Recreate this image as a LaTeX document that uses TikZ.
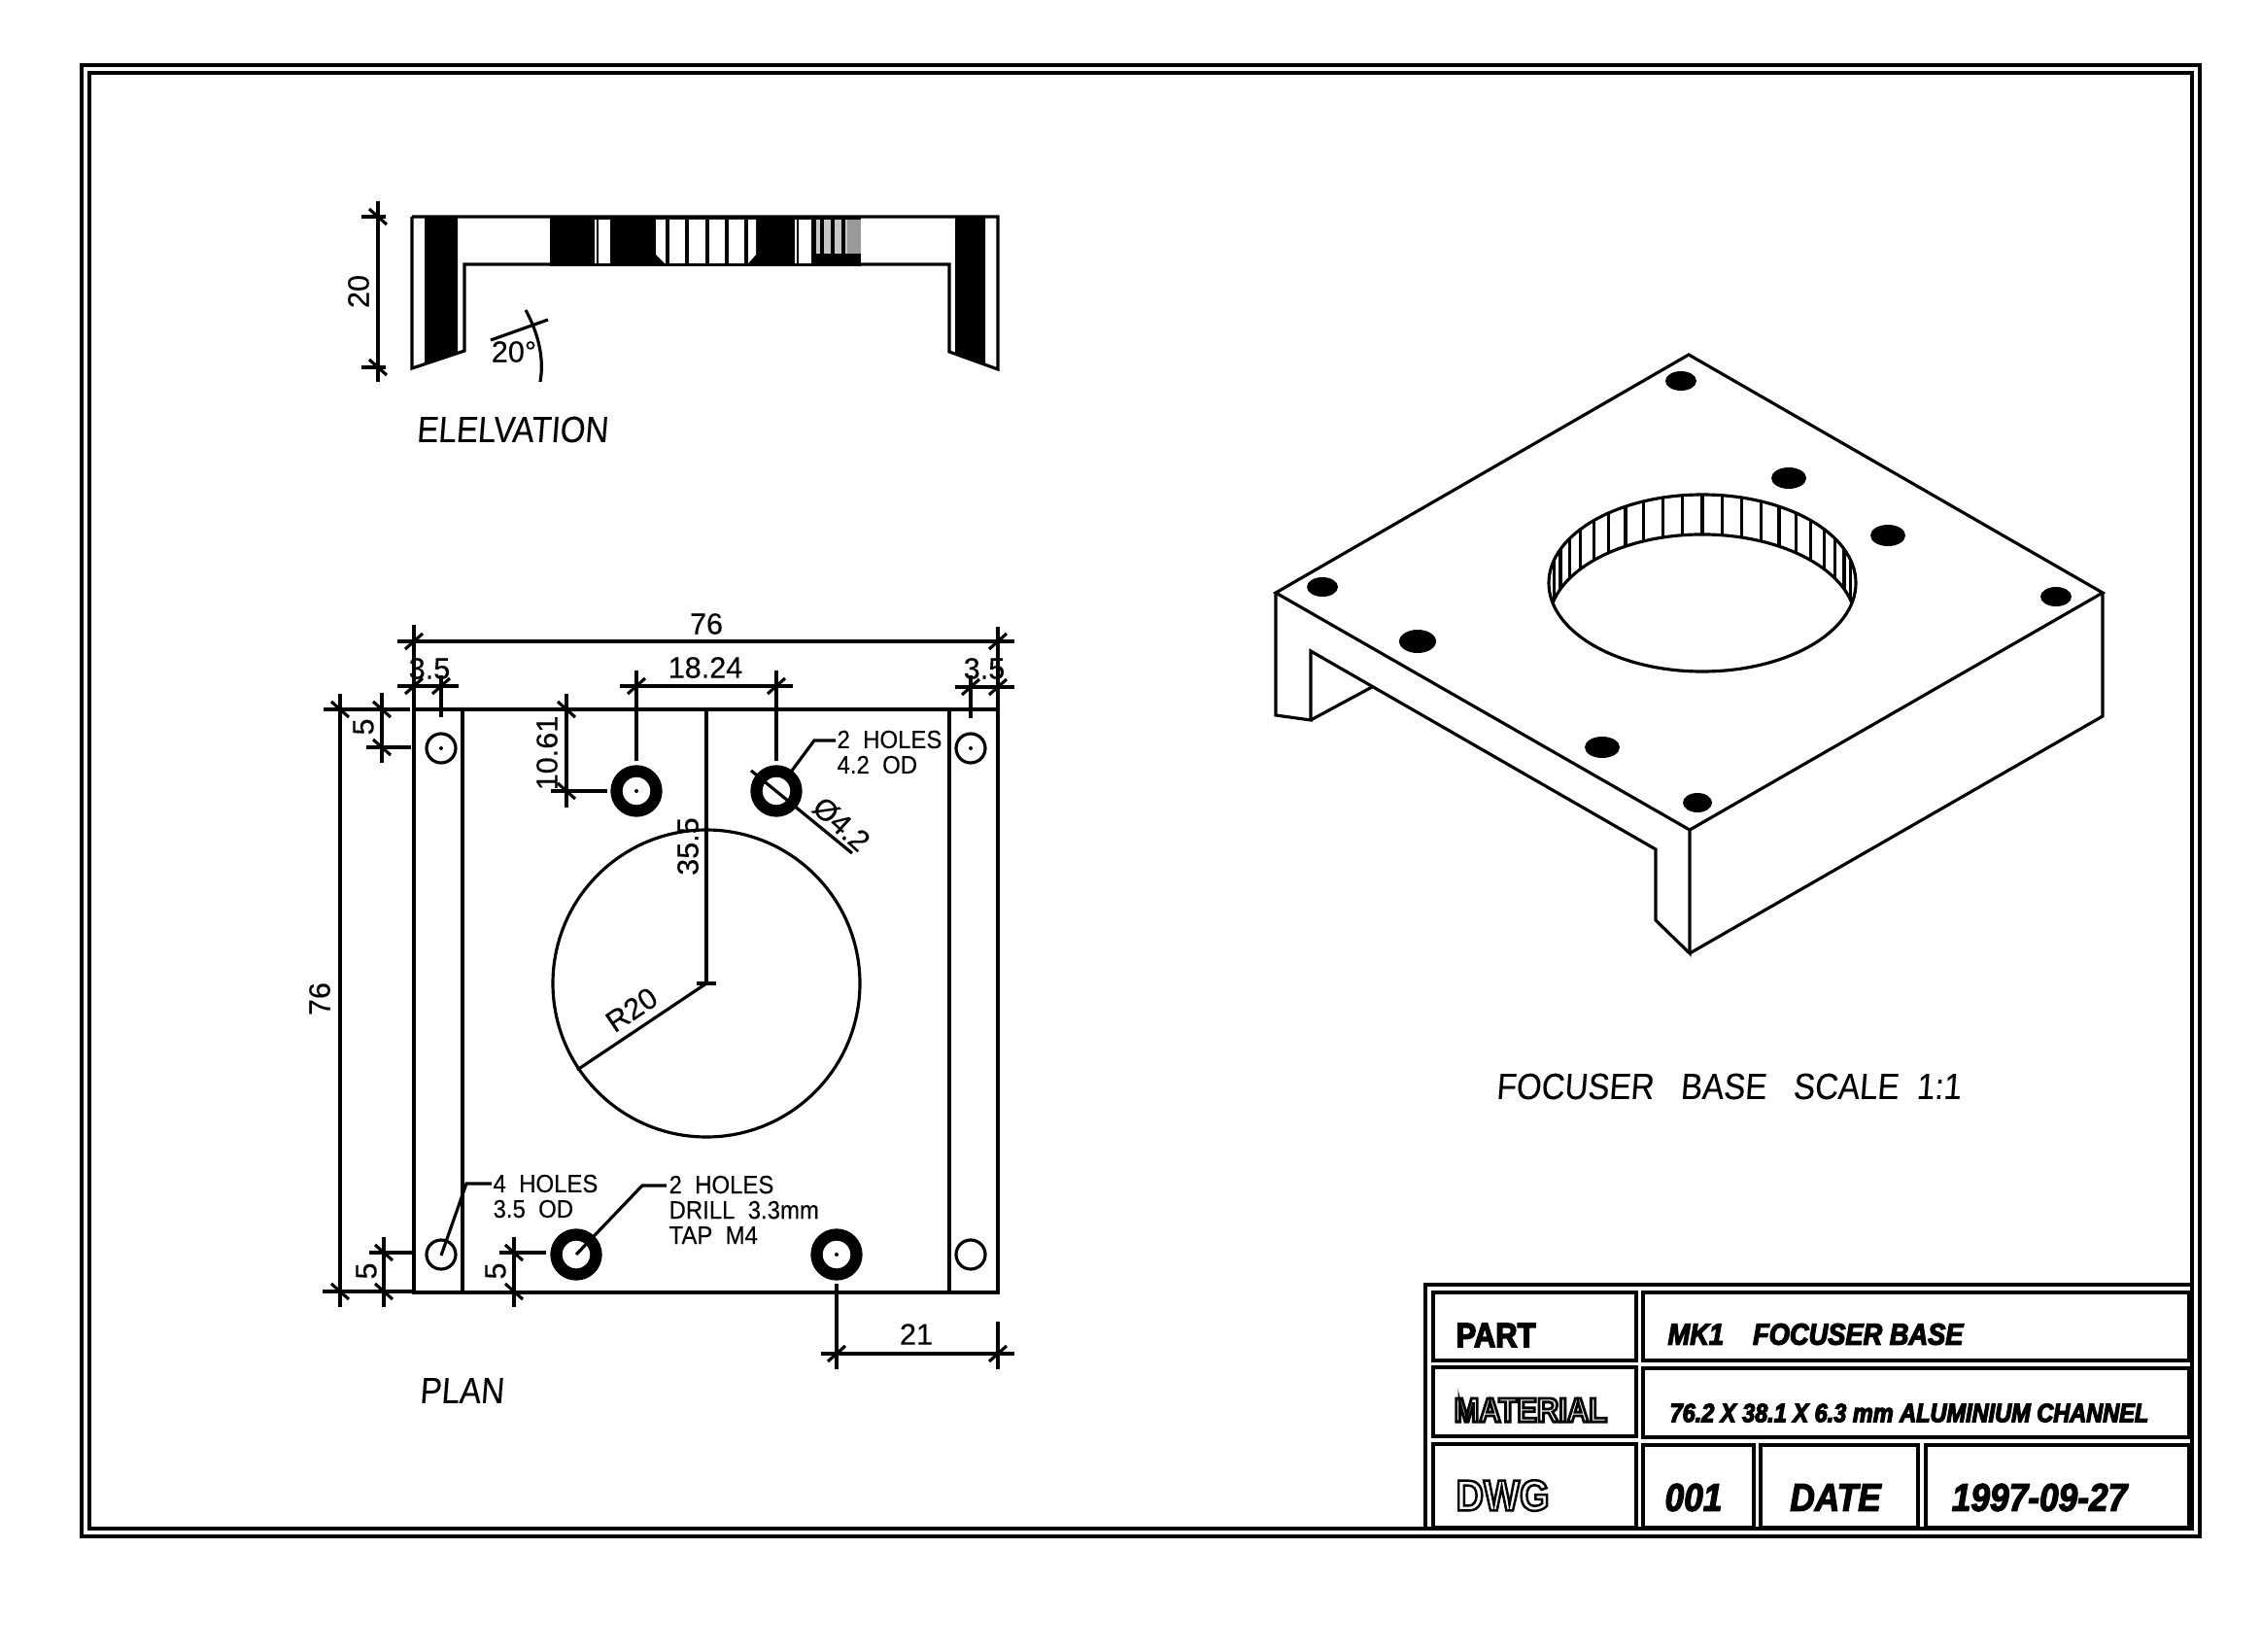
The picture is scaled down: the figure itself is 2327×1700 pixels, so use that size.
\documentclass[tikz,border=0pt]{standalone}
\usepackage{fontspec}
\setmainfont[FakeBold=0.25]{Liberation Sans}
\newfontfamily\notefont[FakeStretch=0.92,FakeBold=0.25]{Liberation Sans}
\newfontfamily\titlefont[FakeStretch=0.88,FakeSlant=0.08,FakeBold=0.15]{Liberation Sans}
\newfontfamily\stampfont[FakeStretch=0.88]{Liberation Sans}
\newcommand{\htick}[1]{\draw (#1) +(-9,8) -- +(9,-8);}
\newcommand{\vtick}[1]{\draw (#1) +(-9,-8) -- +(9,8);}
\newcommand{\inktext}[3]{\special{pdf:code #1 Tr #2 w}#3\special{pdf:code 0 Tr}}
\tikzset{
  part/.style={line width=0.9pt},
  frameline/.style={line width=1pt},
  ring/.style={line width=3.5pt},
  dimtext/.style={inner sep=0pt,font=\fontsize{8.7}{10}\selectfont},
  notetext/.style={inner sep=0pt,anchor=west,align=left,font=\notefont\fontsize{7.4}{7.4}\selectfont},
  viewtext/.style={inner sep=0pt,font=\titlefont\fontsize{10.7}{12}\selectfont},
  headtext/.style={inner sep=0pt,anchor=west,font=\stampfont\bfseries\fontsize{10}{12}\selectfont},
  entrytext/.style={inner sep=0pt,font=\stampfont\bfseries\itshape\fontsize{11.4}{12}\selectfont},
}

\begin{document}
\begin{tikzpicture}[x=0.01cm,y=-0.01cm,part]
\useasboundingbox (0,0) rectangle (2327,1700);

% sheet
\draw[frameline] (84,67) rectangle (2264,1581);
\draw[frameline] (92,75) rectangle (2256,1573);

% elevation
\fill (437,223) -- (471,223) -- (471,363) -- (437,375) -- cycle;
\fill (983,223) -- (1014,223) -- (1014,375) -- (983,363) -- cycle;
\fill (566,223) rectangle (886,274);
\fill[white] (616,226) rectangle (628,271);
\fill[white] (612,226) rectangle (613.5,271);
\fill[white] (675,226) -- (778,226) -- (778,262) -- (770,271) -- (684,271) -- (675,262) -- cycle;
\fill[white] (822,226) rectangle (835,271);
\fill[white] (818,226) rectangle (819.5,271);
\fill[gray!45] (840,226) rectangle (872,261);
\fill[gray!80] (872,226) rectangle (886,261);
\foreach \x in {687,707,728,748,768,837,846,857,868}
  \draw (\x,226) -- (\x,271);
\draw (424,223) -- (1027,223) -- (1027,380) -- (977,362) -- (977,272) -- (886,272);
\draw (424,223) -- (424,379) -- (478,361) -- (478,272) -- (566,272);

\draw (389,207) -- (389,393);
\draw (372,223) -- (397,223);
\draw (372,378) -- (397,378);
\vtick{389,223}
\vtick{389,378}
\node[dimtext,rotate=90] (elevheight) at (369,300) {20};
\draw (541,319) .. controls (555,345) and (560,370) .. (556,393);
\draw (505,350) -- (564,329);
\node[dimtext] (elevangle) at (529,362) {20°};
\node[viewtext] (elevtitle) at (527,442) {ELELVATION};

% plan
\draw (426,730) rectangle (1027,1330);
\draw (476,730) -- (476,1330);
\draw (977,730) -- (977,1330);
\draw (727,1012) circle[radius=158];
\draw (727,730) -- (727,1012);
\draw (717,1012) -- (737,1012);
\draw (727,1012) -- (594,1101);
\node[dimtext,rotate=90] (centredepth) at (708,871) {35.5};
\node[dimtext,rotate=34] (boreradius) at (650,1039) {R20};

\draw (454,770) circle[radius=15];
\draw (999,770) circle[radius=15];
\draw (454,1291) circle[radius=15];
\draw (999,1291) circle[radius=15];
\fill (454,770) circle[radius=2];
\fill (999,770) circle[radius=2];

\draw[ring] (655,814) circle[radius=20.5];
\draw[ring] (799,814) circle[radius=20.5];
\draw[ring] (593,1291) circle[radius=20.5];
\draw[ring] (861,1291) circle[radius=20.5];
\fill (655,814) circle[radius=2];
\fill (861,1291) circle[radius=2];

% plan dimensions
\draw (409,660) -- (1044,660);
\draw (426,643) -- (426,730);
\draw (1027,645) -- (1027,730);
\htick{426,660}
\htick{1027,660}
\node[dimtext] (planwidth) at (727,642) {76};

\draw (409,706) -- (472,706);
\draw (454,695) -- (454,738);
\htick{426,706}
\htick{454,706}
\node[dimtext] (flangeleft) at (442,688) {3.5};

\draw (983,707) -- (1044,707);
\draw (999,695) -- (999,739);
\htick{999,707}
\htick{1027,707}
\node[dimtext] (flangeright) at (1013,688) {3.5};

\draw (638,706) -- (816,706);
\draw (655,690) -- (655,783);
\draw (799,690) -- (799,783);
\htick{655,706}
\htick{799,706}
\node[dimtext] (holepitch) at (726,687) {18.24};

\draw (350,714) -- (350,1345);
\draw (333,730) -- (422,730);
\draw (332,1329) -- (424,1329);
\vtick{350,730}
\vtick{350,1329}
\node[dimtext,rotate=90] (planheight) at (329,1028) {76};

\draw (393,713) -- (393,785);
\draw (377,769) -- (423,769);
\vtick{393,730}
\vtick{393,769}
\node[dimtext,rotate=90] (insettop) at (374,748) {5};

\draw (583,714) -- (583,831);
\draw (567,814) -- (625,814);
\vtick{583,730}
\vtick{583,814}
\node[dimtext,rotate=90] (holedepth) at (563,775) {10.61};

\draw (395,1273) -- (395,1345);
\draw (380,1289) -- (424,1289);
\vtick{395,1289}
\vtick{395,1329}
\node[dimtext,rotate=90] (insetleft) at (377,1308) {5};

\draw (529,1273) -- (529,1345);
\draw (514,1289) -- (562,1289);
\vtick{529,1289}
\vtick{529,1329}
\node[dimtext,rotate=90] (insetmid) at (510,1308) {5};

\draw (845,1393) -- (1044,1393);
\draw (861,1321) -- (861,1409);
\draw (1027,1360) -- (1027,1409);
\htick{861,1393}
\htick{1027,1393}
\node[dimtext] (tapoffset) at (943,1373) {21};

% hole notes
\draw (773,793) -- (877,878);
\node[dimtext,rotate=-42] (holesize) at (866,848) {Ø4.2};
\draw (860,762) -- (838,762) -- (815,793);
\node[notetext] (noteclear) at (860,774) {2\ \ HOLES\\4.2\ \ OD};
\draw (506,1218) -- (480,1218) -- (454,1292);
\node[notetext] (notemount) at (506,1231) {4\ \ HOLES\\3.5\ \ OD};
\draw (686,1220) -- (661,1220) -- (593,1291);
\node[notetext] (notetap) at (687,1245) {2\ \ HOLES\\DRILL\ \ 3.3mm\\TAP\ \ M4};
\node[viewtext] (plantitle) at (475,1431) {PLAN};

% isometric view
\draw (1738,365) -- (2164,610) -- (1739,854) -- (1313,610) -- cycle;
\draw (1313,610) -- (1313,736) -- (1349,741) -- (1349,670) -- (1704,874) -- (1704,947) -- (1739,981) -- (1739,854);
\draw (1739,981) -- (2164,737) -- (2164,610);
\draw (1349,741) -- (1412,707);

\fill (1730,392) ellipse[x radius=16,y radius=10];
\fill (1841,492) ellipse[x radius=18,y radius=11];
\fill (1943,551) ellipse[x radius=18,y radius=11];
\fill (2116,614) ellipse[x radius=16,y radius=10];
\fill (1361,604) ellipse[x radius=16,y radius=10];
\fill (1459,660) ellipse[x radius=19,y radius=12];
\fill (1649,769) ellipse[x radius=18,y radius=11];
\fill (1747,826) ellipse[x radius=15,y radius=10];

\draw (1752,600) ellipse[x radius=158,y radius=91];
\draw (1598,620.5) arc[start angle=193,end angle=347,x radius=158,y radius=91];
\foreach \a in {-10,...,10}
  \draw ({1752+158*sin(7.5*\a)},{600-91*cos(7.5*\a)}) -- ({1752+158*sin(7.5*\a)},{641-91*cos(7.5*\a)});
\node[viewtext] (isotitle) at (1779,1118) {FOCUSER\ \ \ BASE\ \ \ SCALE\ \ 1:1};

% title block
\draw[frameline] (2256,1322) -- (1467,1322) -- (1467,1573);
\draw (1475,1330) rectangle (1684,1400);
\draw (1475,1407) rectangle (1684,1478);
\draw (1475,1486) rectangle (1684,1572);
\draw (1691,1330) rectangle (2253,1400);
\draw (1691,1408) rectangle (2253,1479);
\draw (1691,1487) rectangle (1805,1572);
\draw (1812,1487) rectangle (1974,1572);
\draw (1982,1487) rectangle (2253,1572);

\node[headtext] (partlabel) at (1497,1374) {\inktext{2}{0.4}{PART}};
\node[headtext] (materiallabel) at (1495,1451) {\inktext{1}{0.8}{MATERIAL}};
\node[headtext,font=\stampfont\bfseries\fontsize{12.7}{14}\selectfont] (dwglabel) at (1497,1539) {\inktext{1}{0.7}{DWG}};
\node[entrytext,anchor=west,font=\stampfont\bfseries\itshape\fontsize{8.8}{11}\selectfont] (partname) at (1715,1373) {\inktext{2}{0.35}{MK1\hspace{3mm}FOCUSER BASE}};
\node[entrytext,anchor=west,font=\stampfont\bfseries\itshape\fontsize{7.6}{10}\selectfont] (materialname) at (1717,1454) {\inktext{2}{0.35}{76.2 X 38.1 X 6.3 mm ALUMINIUM CHANNEL}};
\node[entrytext] (dwgnumber) at (1743,1541) {\inktext{2}{0.35}{001}};
\node[entrytext] (datelabel) at (1889,1541) {\inktext{2}{0.35}{DATE}};
\node[entrytext] (datevalue) at (2099,1541) {\inktext{2}{0.35}{1997-09-27}};

\end{tikzpicture}
\end{document}
